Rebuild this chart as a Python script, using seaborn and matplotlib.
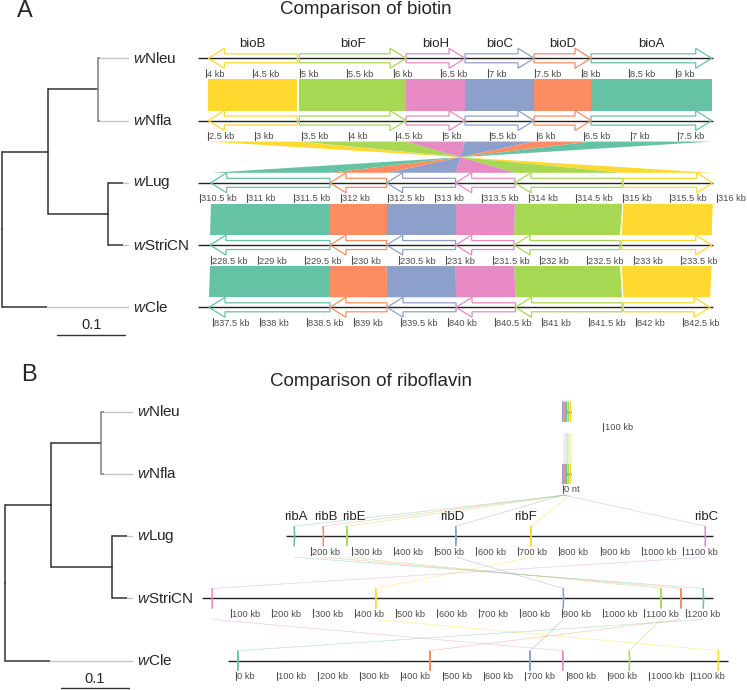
import numpy as np
import matplotlib
matplotlib.use("Agg")
import matplotlib.pyplot as plt
from matplotlib.patches import Polygon
import seaborn as sns

# ---- tree (same for both panels), branch lengths in substitutions/site
tree_nodes = ["root", "n1", "nn", "ls", "wNleu", "wNfla", "wLug", "wStriCN", "wCle"]
tree_parents = [None, "root", "n1", "n1", "nn", "nn", "ls", "ls", "root"]
tree_lengths = [0.0, 0.0676, 0.0735, 0.0891, 0.004, 0.004, 0.022, 0.022, 0.0662]
tips = ["wNleu", "wNfla", "wLug", "wStriCN", "wCle"]

# ---- panel A: biotin genes (kb)
bio_genes = ["bioA", "bioD", "bioC", "bioH", "bioF", "bioB"]
bio_seq_start = {"wNleu": 3.915, "wNfla": 2.397, "wLug": 310.479, "wStriCN": 228.367, "wCle": 837.34}
bio_seq_end = {"wNleu": 9.394, "wNfla": 7.878, "wLug": 315.958, "wStriCN": 233.846, "wCle": 842.82}
bio_start = {
    "wNleu": [8.096, 7.490, 6.756, 6.128, 4.993, 4.025],
    "wNfla": [6.578, 5.972, 5.238, 4.610, 3.475, 2.507],
    "wLug": [310.614, 311.883, 312.486, 313.220, 313.851, 315.003],
    "wStriCN": [228.495, 229.771, 230.374, 231.108, 231.729, 232.875],
    "wCle": [837.457, 838.744, 839.351, 840.085, 840.718, 841.865],
}
bio_end = {
    "wNleu": [9.380, 8.096, 7.490, 6.756, 6.128, 4.971],
    "wNfla": [7.862, 6.578, 5.972, 5.238, 4.610, 3.453],
    "wLug": [311.883, 312.486, 313.220, 313.851, 314.993, 315.955],
    "wStriCN": [229.771, 230.374, 231.108, 231.729, 232.856, 233.832],
    "wCle": [838.744, 839.351, 840.085, 840.718, 841.851, 842.787],
}
bio_strand = {
    "wNleu": [1, 1, 1, 1, 1, -1],
    "wNfla": [1, 1, 1, 1, 1, -1],
    "wLug": [-1, -1, -1, -1, -1, 1],
    "wStriCN": [-1, -1, -1, -1, -1, 1],
    "wCle": [-1, -1, -1, -1, -1, 1],
}

# ---- panel B: riboflavin genes (kb)
rib_genes = ["ribA", "ribB", "ribD", "ribC", "ribE", "ribF"]
rib_len = [1.2, 0.6, 1.1, 0.5, 1.2, 0.9]
rib_pos = {
    "wNleu": [11.0, 7.5, 2.6, 4.0, 15.5, 20.5],
    "wNfla": [9.0, 5.5, 0.6, 2.0, 13.5, 18.5],
    "wLug": [159.6, 229.7, 549.8, 1153.3, 286.3, 731.9],
    "wStriCN": [1242.7, 1188.7, 904.2, 55.5, 1140.4, 450.6],
    "wCle": [4.8, 469.8, 711.5, 790.6, 951.6, 1166.8],
}
rib_seq_start = {"wNleu": 2.0, "wNfla": 0.0, "wLug": 139.5, "wStriCN": 30.6, "wCle": -17.9}
rib_seq_end = {"wNleu": 22.0, "wNfla": 20.0, "wLug": 1171.9, "wStriCN": 1266.1, "wCle": 1191.0}
rib_shift = {"wNleu": 899.1, "wNfla": 901.1, "wLug": 92.6, "wStriCN": -1.6, "wCle": 110.5}
rib_ticks = {
    "wNleu": [100],
    "wNfla": [0],
    "wLug": list(range(200, 1101, 100)),
    "wStriCN": list(range(100, 1201, 100)),
    "wCle": list(range(0, 1101, 100)),
}
rib_tick_unit = {"wNleu": "kb", "wNfla": "nt", "wLug": "kb", "wStriCN": "kb", "wCle": "kb"}

sns.set_theme(style="white")
plt.rcParams["font.family"] = ["Liberation Sans", "DejaVu Sans"]
plt.rcParams["mathtext.fontset"] = "custom"
plt.rcParams["mathtext.rm"] = "Liberation Sans"
plt.rcParams["mathtext.it"] = "Liberation Sans:italic"
pal = sns.color_palette("Set2", 6)

W, H = 747, 690
fig = plt.figure(figsize=(W / 100, H / 100), dpi=100)

DY = 62.25          # px between tracks
TREE_PPU = 680.0    # px per substitution unit
GREY = "#4D4D4D"


def px_axes(x0, x1, ytop, ybot):
    ax = fig.add_axes([x0 / W, 1 - ybot / H, (x1 - x0) / W, (ybot - ytop) / H])
    ax.axis("off")
    return ax


def draw_tree(ax):
    x, y = {}, {}
    for n, p, l in zip(tree_nodes, tree_parents, tree_lengths):
        x[n] = l if p is None else x[p] + l

    def gety(n):
        if n in tips:
            return tips.index(n)
        kids = [c for c, p in zip(tree_nodes, tree_parents) if p == n]
        return np.mean([gety(c) for c in kids])

    for n in tree_nodes:
        y[n] = gety(n)
    lab_x = 0.193
    for n, p in zip(tree_nodes, tree_parents):
        if p is None:
            continue
        col = "#808080" if p == "nn" else "#333333"
        if n in tips:
            ax.plot([x[n], lab_x - 5 / TREE_PPU], [y[n], y[n]], color="#C4C4C4", lw=1.0, zorder=1)
        ax.plot([x[p], x[n]], [y[n], y[n]], color=col, lw=1.1, zorder=2, solid_capstyle="butt")
        ax.plot([x[p], x[p]], [y[n], y[p]], color=col, lw=1.1, zorder=2, solid_capstyle="projecting")
    for t in tips:
        ax.text(lab_x, y[t], "$\\mathit{w}$" + t[1:], fontsize=11, va="center", ha="left")
    ax.plot([0.082, 0.182], [4.44, 4.44], color="#333333", lw=1.0, clip_on=False)
    ax.text(0.132, 4.29, "0.1", fontsize=10.5, ha="center", va="center")


def arrow_pts(x0, x1, strand, yc, ppk):
    hl = min(16 / ppk, x1 - x0)
    bh, hh = 4.5 / DY, 10 / DY
    if strand > 0:
        return [(x0, yc - bh), (x1 - hl, yc - bh), (x1 - hl, yc - hh), (x1, yc),
                (x1 - hl, yc + hh), (x1 - hl, yc + bh), (x0, yc + bh)]
    return [(x1, yc - bh), (x0 + hl, yc - bh), (x0 + hl, yc - hh), (x0, yc),
            (x0 + hl, yc + hh), (x0 + hl, yc + bh), (x1, yc + bh)]


def draw_tracks(ax, genes, start, end, strand, seq_start, seq_end, shift, ppk,
                ticks, units, label_track, label_px, label_nudge, link_lw, link_alpha):
    # links between consecutive genomes
    for i in range(len(tips) - 1):
        a, b = tips[i], tips[i + 1]
        yt, yb = i + 21 / DY, i + 1 - 10 / DY
        for k in reversed(range(len(genes))):
            a0, a1 = start[a][k] + shift[a], end[a][k] + shift[a]
            b0, b1 = start[b][k] + shift[b], end[b][k] + shift[b]
            if strand[a][k] == strand[b][k]:
                pts = [(a0, yt), (a1, yt), (b1, yb), (b0, yb)]
            else:
                pts = [(a0, yt), (a1, yt), (b0, yb), (b1, yb)]
            ax.add_patch(Polygon(pts, closed=True, facecolor=pal[k], edgecolor=pal[k],
                                 lw=link_lw, alpha=link_alpha, zorder=1))
    for i, t in enumerate(tips):
        ax.plot([seq_start[t] + shift[t], seq_end[t] + shift[t]], [i, i],
                color="#222222", lw=1.0, zorder=2, solid_capstyle="butt")
        for k in range(len(genes)):
            pts = arrow_pts(start[t][k] + shift[t], end[t][k] + shift[t], strand[t][k], i, ppk)
            ax.add_patch(Polygon(pts, closed=True, fill=False, edgecolor=pal[k], lw=0.9, zorder=3))
            if t == label_track:
                xc = (start[t][k] + end[t][k]) / 2 + shift[t] + label_nudge[k] / ppk
                ax.text(xc, i - label_px / DY, genes[k], fontsize=9.5, ha="center", va="baseline")
        for v in ticks[t]:
            xv = v + shift[t]
            ax.plot([xv, xv], [i + 11 / DY, i + 19 / DY], color=GREY, lw=0.8, zorder=2)
            ax.text(xv + 1.3 / ppk, i + 18.5 / DY, f"{v:g} {units[t]}", fontsize=6.7,
                    color=GREY, ha="left", va="baseline")


# ---------- panel A
yA = 58.3
tree_a = px_axes(0, 190, yA - 0.75 * DY, yA + 4.6 * DY)
tree_a.set_xlim(-1.7 / TREE_PPU, 188.3 / TREE_PPU)
tree_a.set_ylim(4.6, -0.75)
draw_tree(tree_a)

ppk_a = 94.0
trk_a = px_axes(190, 745, yA - 0.75 * DY, yA + 4.6 * DY)
trk_a.set_xlim(-8 / ppk_a, 547 / ppk_a)
trk_a.set_ylim(4.6, -0.75)
shift_a = {t: -bio_seq_start[t] for t in tips}
ticks_a = {t: np.arange(np.ceil(bio_seq_start[t] * 2) / 2, bio_seq_end[t] + 0.05, 0.5) for t in tips}
draw_tracks(trk_a, bio_genes, bio_start, bio_end, bio_strand, bio_seq_start, bio_seq_end,
            shift_a, ppk_a, ticks_a, {t: "kb" for t in tips}, "wNleu", 11, [0] * 6, 0, 1.0)

# ---------- panel B
yB = 411.7
tree_b = px_axes(0, 190, yB - 0.75 * DY, yB + 4.45 * DY)
tree_b.set_xlim(-5.3 / TREE_PPU, 184.7 / TREE_PPU)
tree_b.set_ylim(4.45, -0.75)
draw_tree(tree_b)

ppk_b = 0.4136
trk_b = px_axes(190, 745, yB - 0.75 * DY, yB + 4.45 * DY)
trk_b.set_xlim(0, 555 / ppk_b)
trk_b.set_ylim(4.45, -0.75)
rib_start = {t: rib_pos[t] for t in tips}
rib_end = {t: [p + l for p, l in zip(rib_pos[t], rib_len)] for t in tips}
rib_strand = {t: [1] * 6 for t in tips}
draw_tracks(trk_b, rib_genes, rib_start, rib_end, rib_strand, rib_seq_start, rib_seq_end,
            rib_shift, ppk_b, rib_ticks, rib_tick_unit, "wLug", 16,
            [1.5, 2.5, -3.7, 0.7, 7.0, -5.5], 0.45, 0.28)

fig.text(366 / W, 1 - 9.5 / H, "Comparison of biotin", fontsize=13.5, ha="center", va="center")
fig.text(371 / W, 1 - 382 / H, "Comparison of riboflavin", fontsize=13.5, ha="center", va="center")
fig.text(25 / W, 1 - 11 / H, "A", fontsize=17, ha="center", va="center")
fig.text(29 / W, 1 - 375 / H, "B", fontsize=17, ha="center", va="center")

fig.savefig("out.png", dpi=100)
